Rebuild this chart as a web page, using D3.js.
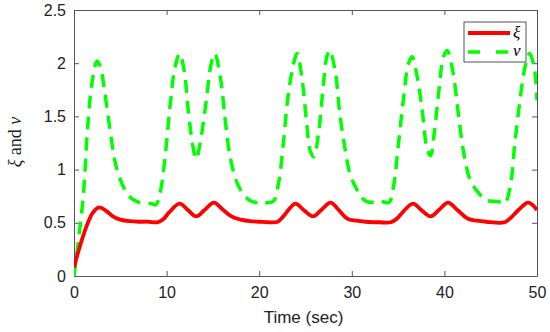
<!DOCTYPE html>
<html>
<head>
<meta charset="utf-8">
<script src="https://cdn.jsdelivr.net/npm/d3@7"></script>
<style>
  body { margin: 0; background: #fff; }
  .axis text { font-family: "Liberation Sans", Arial, sans-serif; font-size: 16px; fill: #222; }
  .axis path, .axis line { stroke: #555; }
</style>
</head>
<body>
<div id="chart"></div>
<script>
// xi (red, solid)
var xiTime = [0, 0.5, 1, 1.5, 2, 2.7, 3.5, 4.2, 5, 6, 7, 8, 9, 9.6, 10.3, 11.4, 12.3, 13.2, 14.1, 15.1, 16, 17, 18, 19, 20, 21, 22, 22.7, 23.9, 24.8, 25.8, 26.7, 27.7, 28.6, 29.5, 30.5, 31.5, 33, 34.2, 35, 35.6, 36.6, 37.5, 38.5, 39.4, 40.4, 41.4, 42.5, 43.5, 44.5, 46.5, 47.2, 48, 49, 49.5, 50];
var xiVals = [0.08, 0.24, 0.38, 0.5, 0.59, 0.645, 0.61, 0.56, 0.53, 0.515, 0.51, 0.51, 0.505, 0.53, 0.6, 0.68, 0.62, 0.56, 0.62, 0.69, 0.63, 0.56, 0.53, 0.515, 0.51, 0.505, 0.51, 0.57, 0.68, 0.62, 0.56, 0.62, 0.69, 0.62, 0.54, 0.52, 0.51, 0.505, 0.505, 0.55, 0.61, 0.68, 0.62, 0.56, 0.62, 0.69, 0.62, 0.54, 0.52, 0.51, 0.505, 0.55, 0.62, 0.69, 0.67, 0.62];

// v (green, dashed)
var vTime = [0, 0.5, 1, 1.5, 2, 2.5, 2.9, 3.3, 3.9, 4.4, 4.9, 5.5, 6.2, 7.1, 8.4, 8.85, 9.3, 9.8, 10.4, 10.9, 11.4, 11.9, 12.3, 12.8, 13.2, 13.6, 14.2, 14.8, 15.2, 15.8, 16.3, 16.8, 17.5, 18.2, 19, 19.7, 20.4, 21.5, 22.1, 22.6, 23.1, 23.7, 24.1, 24.6, 25.1, 25.5, 25.9, 26.4, 26.9, 27.3, 27.6, 28.2, 28.7, 29.3, 29.8, 30.5, 31.4, 32.5, 33.2, 34, 34.5, 35, 35.6, 36.1, 36.5, 37, 37.6, 38.1, 38.5, 38.9, 39.4, 39.9, 40.3, 40.9, 41.5, 42.1, 42.8, 43.7, 44.6, 45.8, 46.5, 47.1, 47.6, 48.2, 48.7, 49.2, 49.7, 50];
var vVals = [0, 0.35, 0.75, 1.43, 1.85, 2.02, 1.95, 1.74, 1.37, 1.09, 0.93, 0.81, 0.73, 0.69, 0.68, 0.67, 0.78, 1.09, 1.62, 1.96, 2.09, 1.93, 1.59, 1.24, 1.1, 1.24, 1.59, 1.99, 2.09, 1.87, 1.49, 1.15, 0.9, 0.78, 0.71, 0.69, 0.69, 0.7, 0.88, 1.24, 1.68, 1.99, 2.09, 1.87, 1.46, 1.18, 1.12, 1.34, 1.77, 2.06, 2.12, 1.93, 1.53, 1.18, 0.96, 0.82, 0.71, 0.69, 0.7, 0.69, 0.84, 1.21, 1.68, 1.99, 2.06, 1.9, 1.56, 1.21, 1.13, 1.34, 1.74, 2.06, 2.12, 1.93, 1.53, 1.15, 0.9, 0.78, 0.71, 0.7, 0.68, 0.84, 1.24, 1.68, 1.96, 2.09, 1.96, 1.65];

var xTicks = [0, 10, 20, 30, 40, 50];
var yTicks = [0, 0.5, 1, 1.5, 2, 2.5];
var yTickLabels = ["0", "0.5", "1", "1.5", "2", "2.5"];

var W = 550, H = 332;
var margin = {top: 10, right: 13, bottom: 56, left: 74};
var width = W - margin.left - margin.right,
    height = H - margin.top - margin.bottom;

var x = d3.scaleLinear().domain([0, 50]).range([0, width]);
var y = d3.scaleLinear().domain([0, 2.5]).range([height, 0]);

var svg = d3.select('#chart').append('svg')
    .attr('width', W).attr('height', H);

var main = svg.append('g')
    .attr('transform', 'translate(' + margin.left + ',' + margin.top + ')');

// axes, ticks pointing inward like matlab
main.append('g').attr('class', 'axis')
    .attr('transform', 'translate(0,' + height + ')')
    .call(d3.axisBottom(x).tickValues(xTicks).tickSizeInner(-5).tickSizeOuter(0).tickPadding(11));
main.append('g').attr('class', 'axis')
    .call(d3.axisLeft(y).tickValues(yTicks).tickFormat(function (d, i) { return yTickLabels[i]; })
      .tickSizeInner(-5).tickSizeOuter(0).tickPadding(8));
main.append('g').attr('class', 'axis')
    .call(d3.axisTop(x).tickValues(xTicks).tickSizeInner(-5).tickSizeOuter(0).tickFormat(''));
main.append('g').attr('class', 'axis')
    .attr('transform', 'translate(' + width + ',0)')
    .call(d3.axisRight(y).tickValues(yTicks).tickSizeInner(-5).tickSizeOuter(0).tickFormat(''));

main.selectAll('.axis .domain').attr('stroke', '#555');
main.selectAll('.axis text').attr('fill', '#222');

var clip = main.append('clipPath').attr('id', 'clip')
    .append('rect').attr('width', width).attr('height', height + 2).attr('y', -1);

function makeLine(ts) {
  return d3.line()
    .x(function (d, i) { return x(ts[i]); })
    .y(function (d) { return y(d); })
    .curve(d3.curveCatmullRom.alpha(0.5));
}

var plot = main.append('g').attr('clip-path', 'url(#clip)');

plot.append('path')
    .datum(vVals)
    .attr('d', makeLine(vTime))
    .attr('fill', 'none')
    .attr('stroke', '#00ff00')
    .attr('stroke-width', 3.5)
    .attr('stroke-dasharray', '13,8');

plot.append('path')
    .datum(xiVals)
    .attr('d', makeLine(xiTime))
    .attr('fill', 'none')
    .attr('stroke', '#ff0000')
    .attr('stroke-width', 3.8);

// legend
var leg = main.append('g').attr('transform', 'translate(' + (464 - margin.left) + ',' + (22 - margin.top) + ')');
leg.append('rect').attr('width', 62).attr('height', 40)
    .attr('fill', '#fff').attr('stroke', '#555').attr('stroke-width', 1);
leg.append('line').attr('x1', 4).attr('x2', 46).attr('y1', 11).attr('y2', 11)
    .attr('stroke', '#ff0000').attr('stroke-width', 3.8);
leg.append('line').attr('x1', 4).attr('x2', 46).attr('y1', 30).attr('y2', 30)
    .attr('stroke', '#00ff00').attr('stroke-width', 3.5).attr('stroke-dasharray', '12,16');
leg.append('text').attr('x', 49).attr('y', 16)
    .style('font-family', '"Liberation Serif", serif').style('font-style', 'italic').style('font-size', '17px')
    .text('ξ');
leg.append('text').attr('x', 49).attr('y', 34)
    .style('font-family', '"Liberation Serif", serif').style('font-style', 'italic').style('font-size', '17px')
    .text('v');

// axis titles
svg.append('text')
    .attr('x', margin.left + width / 2 - 2).attr('y', 323)
    .attr('text-anchor', 'middle')
    .style('font-family', '"Liberation Sans", Arial, sans-serif').style('font-size', '17px').style('fill', '#222')
    .text('Time (sec)');

var yl = svg.append('text')
    .attr('transform', 'translate(21,142) rotate(-90)')
    .attr('text-anchor', 'middle')
    .style('font-family', '"Liberation Serif", serif').style('font-size', '18px').style('fill', '#222');
yl.append('tspan').style('font-style', 'italic').text('ξ');
yl.append('tspan').text(' and ');
yl.append('tspan').style('font-style', 'italic').text('v');
</script>
</body>
</html>
